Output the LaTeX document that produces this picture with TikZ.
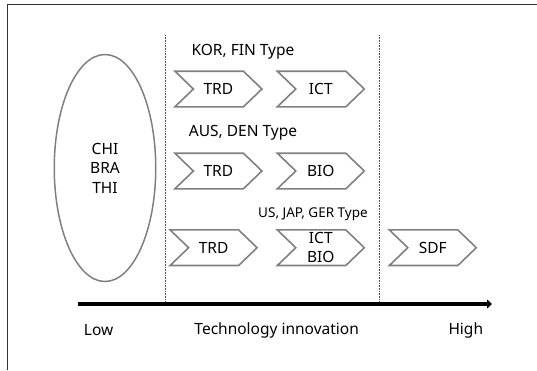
\documentclass[tikz,border=0pt]{standalone}
\usepackage{fontspec}
\setmainfont{Noto Sans}
\usetikzlibrary{shapes.geometric,arrows.meta}
\tikzset{
  chev/.style={rectangle, minimum width=87pt, minimum height=35.5pt,
    inner sep=0pt, outer sep=0pt, font=\fontsize{15.5}{16}\selectfont, align=center},
  chevline/.style={draw=black!50, line width=1.6pt, line join=miter},
  lbl/.style={font=\fontsize{15.5}{17}\selectfont, inner sep=0pt},
  slbl/.style={font=\fontsize{13.5}{15}\selectfont, inner sep=0pt},
  sep/.style={densely dotted, draw=black!70, line width=0.6pt},
  frame/.style={draw=black!80, line width=1.4pt}
}
\begin{document}
\begin{tikzpicture}[x=1pt,y=-1pt]
\useasboundingbox (0,0) rectangle (537,370);
% frame
\coordinate (fl) at (7.5,370);
\coordinate (fc) at (7.5,4.2);
\coordinate (fr) at (537,4.2);
\draw[frame] (fl) -- (fc) -- (fr);
% ellipse
\node[ellipse, draw=black!50, line width=1.5pt, minimum width=101.5pt, minimum height=227pt,
  align=center, font=\fontsize{15.5}{19.5}\selectfont] (lowgrp) at (105,168) {CHI\\BRA\\THI};
% separators
\coordinate (s1t) at (165,35); \coordinate (s1b) at (165,302);
\coordinate (s2t) at (379,35); \coordinate (s2b) at (379,302);
\draw[sep] (s1t) -- (s1b);
\draw[sep] (s2t) -- (s2b);
% labels
\node[lbl] (t1) at (243,52) {KOR, FIN Type};
\node[lbl] (t2) at (243,133) {AUS, DEN Type};
\node[slbl] (t3) at (313,214) {US, JAP, GER Type};
% chevron texts
\node[chev] (a1) at (218.4,89) {TRD};
\node[chev] (a2) at (320.8,89) {ICT};
\node[chev] (b1) at (218.4,171) {TRD};
\node[chev] (b2) at (320.8,171) {BIO};
\node[chev] (c1) at (213.6,247.7) {TRD};
\node[chev, font=\fontsize{15.5}{19}\selectfont] (c2) at (320.8,247.7) {ICT\\BIO};
\node[chev] (c3) at (432.8,247.7) {SDF};
% chevron outlines
\foreach \nd in {a1,a2,b1,b2,c1,c2,c3}{
  \draw[chevline] ([shift={(-43.5,-17.8)}]\nd.center) -- ([shift={(25,-17.8)}]\nd.center) -- ([shift={(43.5,0)}]\nd.center)
    -- ([shift={(25,17.8)}]\nd.center) -- ([shift={(-43.5,17.8)}]\nd.center) -- ([shift={(-25,0)}]\nd.center) -- cycle;
}
% axis
\coordinate (ax0) at (78,304);
\coordinate (ax1) at (492,304);
\draw[line width=4pt, -{Triangle[length=5pt,width=9pt]}] (ax0) -- (ax1);
\node[lbl] (low) at (98.6,330) {Low};
\node[lbl] (mid) at (276.7,330) {Technology innovation};
\node[lbl] (high) at (465.8,330) {High};
\end{tikzpicture}
\end{document}
